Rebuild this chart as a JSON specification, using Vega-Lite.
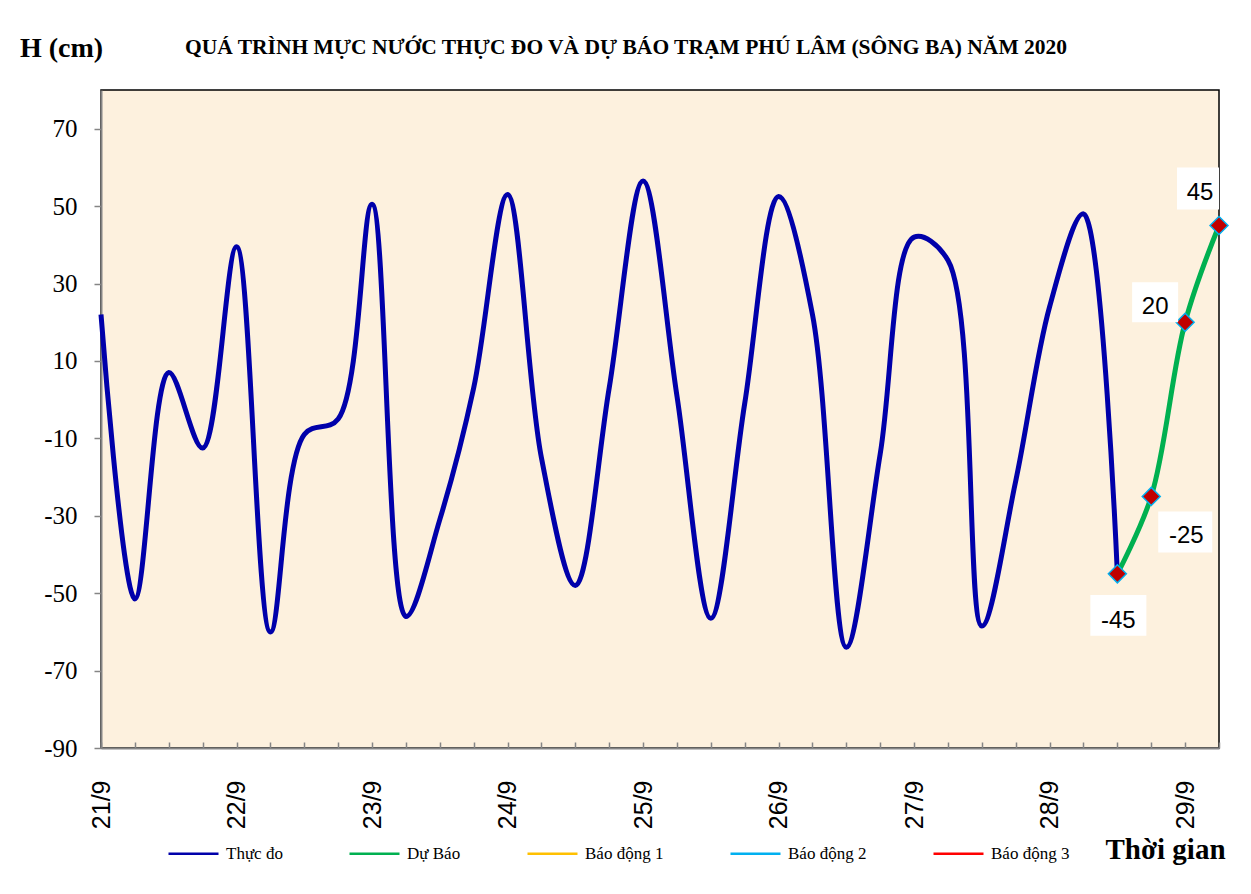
{
  "$schema": "https://vega.github.io/schema/vega-lite/v6.json",
  "width": 1118,
  "height": 658,
  "autosize": "none",
  "padding": {"left": 101, "top": 90, "right": 32, "bottom": 146},
  "background": "white",
  "title": {
    "text": "QUÁ TRÌNH MỰC NƯỚC THỰC ĐO VÀ DỰ BÁO TRẠM PHÚ LÂM (SÔNG BA) NĂM 2020",
    "font": "Liberation Serif",
    "fontSize": 21.5,
    "fontWeight": "bold",
    "color": "black",
    "anchor": "middle",
    "offset": -24,
    "dx": -34
  },
  "config": {
    "view": {"fill": "#FDF1DE", "stroke": "black", "strokeWidth": 1.5},
    "axis": {"zindex": 1, "grid": false, "domainColor": "#858585", "domainWidth": 2, "tickColor": "#858585", "tickWidth": 1.5, "labelColor": "black", "titleColor": "black"}
  },
  "data": {
    "values": [
      {"t": 0, "h": 22, "s": "Thực đo"},
      {"t": 6, "h": -51.5, "s": "Thực đo"},
      {"t": 12, "h": 7, "s": "Thực đo"},
      {"t": 18, "h": -12.5, "s": "Thực đo"},
      {"t": 24, "h": 39.5, "s": "Thực đo"},
      {"t": 30, "h": -60, "s": "Thực đo"},
      {"t": 36, "h": -9, "s": "Thực đo"},
      {"t": 42, "h": -5, "s": "Thực đo"},
      {"t": 48, "h": 50.5, "s": "Thực đo"},
      {"t": 54, "h": -56, "s": "Thực đo"},
      {"t": 60, "h": -31, "s": "Thực đo"},
      {"t": 66, "h": 3, "s": "Thực đo"},
      {"t": 72, "h": 53, "s": "Thực đo"},
      {"t": 78, "h": -15, "s": "Thực đo"},
      {"t": 84, "h": -48, "s": "Thực đo"},
      {"t": 90, "h": 3, "s": "Thực đo"},
      {"t": 96, "h": 56.5, "s": "Thực đo"},
      {"t": 102, "h": 1, "s": "Thực đo"},
      {"t": 108, "h": -56.5, "s": "Thực đo"},
      {"t": 114, "h": -1, "s": "Thực đo"},
      {"t": 120, "h": 52.5, "s": "Thực đo"},
      {"t": 126, "h": 22, "s": "Thực đo"},
      {"t": 132, "h": -64, "s": "Thực đo"},
      {"t": 138, "h": -14, "s": "Thực đo"},
      {"t": 144, "h": 42, "s": "Thực đo"},
      {"t": 150, "h": 36, "s": "Thực đo"},
      {"t": 156, "h": -58.5, "s": "Thực đo"},
      {"t": 162, "h": -21, "s": "Thực đo"},
      {"t": 168, "h": 24, "s": "Thực đo"},
      {"t": 174, "h": 48, "s": "Thực đo"},
      {"t": 180, "h": -45, "s": "Thực đo"},
      {"t": 180, "h": -45, "s": "Dự Báo"},
      {"t": 186, "h": -25, "s": "Dự Báo"},
      {"t": 192, "h": 20, "s": "Dự Báo"},
      {"t": 198, "h": 45, "s": "Dự Báo"}
    ]
  },
  "encoding": {
    "x": {
      "field": "t",
      "type": "quantitative",
      "scale": {"domain": [0, 198], "nice": false, "zero": false},
      "axis": {
        "values": [0, 6, 12, 18, 24, 30, 36, 42, 48, 54, 60, 66, 72, 78, 84, 90, 96, 102, 108, 114, 120, 126, 132, 138, 144, 150, 156, 162, 168, 174, 180, 186, 192, 198],
        "labelExpr": "datum.value % 24 == 0 ? (21 + datum.value / 24) + '/9' : ''",
        "labelAngle": -90,
        "labelAlign": "right",
        "labelBaseline": "middle",
        "labelFont": "Liberation Sans",
        "labelFontSize": 25,
        "labelFlush": false,
        "labelOverlap": false,
        "tickSize": -6,
        "labelPadding": 38,
        "title": "Thời gian",
        "titleFont": "Liberation Serif",
        "titleFontSize": 29,
        "titleFontWeight": "bold",
        "titleX": 1064,
        "titleY": 101,
        "titleAlign": "center",
        "titleBaseline": "middle"
      }
    },
    "y": {
      "field": "h",
      "type": "quantitative",
      "scale": {"domain": [-90, 80], "nice": false, "zero": false},
      "axis": {
        "values": [-90, -70, -50, -30, -10, 10, 30, 50, 70],
        "labelExpr": "'' + datum.value",
        "labelFont": "Liberation Serif",
        "labelFontSize": 25,
        "labelPadding": 17,
        "labelFlush": false,
        "labelOverlap": false,
        "tickSize": 7,
        "title": "H (cm)",
        "titleAngle": 0,
        "titleFont": "Liberation Serif",
        "titleFontSize": 28,
        "titleFontWeight": "bold",
        "titleX": -40,
        "titleY": -42,
        "titleAlign": "center",
        "titleBaseline": "middle"
      }
    }
  },
  "layer": [
    {
      "mark": {"type": "line", "strokeWidth": 5, "interpolate": "catmull-rom"},
      "encoding": {
        "color": {
          "field": "s",
          "type": "nominal",
          "scale": {
            "domain": ["Thực đo", "Dự Báo", "Báo động 1", "Báo động 2", "Báo động 3"],
            "range": ["#0000AA", "#00B050", "#FFC000", "#00B0F0", "#FF0000"]
          },
          "legend": {
            "orient": "none",
            "legendX": 66,
            "legendY": 737,
            "direction": "horizontal",
            "title": null,
            "padding": 0,
            "symbolType": "stroke",
            "symbolSize": 2500,
            "symbolStrokeWidth": 2.5,
            "labelFont": "Liberation Serif",
            "labelFontSize": 17,
            "labelColor": "black",
            "labelOffset": 6,
            "columnPadding": 61
          }
        }
      }
    },
    {
      "transform": [{"filter": "datum.s == 'Dự Báo'"}],
      "mark": {"type": "point", "shape": "diamond", "filled": true, "fill": "#C00000", "stroke": "#00B0F0", "strokeWidth": 1.5, "size": 324, "opacity": 1}
    },
    {
      "transform": [{"filter": "datum.s == 'Dự Báo' && datum.t == 198"}],
      "layer": [
        {"mark": {"type": "point", "shape": "M-1,-1H1V1H-1Z", "filled": true, "fill": "white", "opacity": 1, "strokeWidth": 0, "size": 1764, "xOffset": -21, "yOffset": -37}},
        {"mark": {"type": "text", "font": "Liberation Sans", "fontSize": 24, "color": "black", "baseline": "alphabetic", "dx": -19, "dy": -25.4}, "encoding": {"text": {"field": "h"}}}
      ]
    },
    {
      "transform": [{"filter": "datum.s == 'Dự Báo' && datum.t == 192"}],
      "layer": [
        {"mark": {"type": "point", "shape": "M-1,-0.87H1V0.87H-1Z", "filled": true, "fill": "white", "opacity": 1, "strokeWidth": 0, "size": 2116, "xOffset": -30, "yOffset": -20}},
        {"mark": {"type": "text", "font": "Liberation Sans", "fontSize": 24, "color": "black", "baseline": "alphabetic", "dx": -30, "dy": -8}, "encoding": {"text": {"field": "h"}}}
      ]
    },
    {
      "transform": [{"filter": "datum.s == 'Dự Báo' && datum.t == 186"}],
      "layer": [
        {"mark": {"type": "point", "shape": "M-1,-0.76H1V0.76H-1Z", "filled": true, "fill": "white", "opacity": 1, "strokeWidth": 0, "size": 2916, "xOffset": 34, "yOffset": 35.5}},
        {"mark": {"type": "text", "font": "Liberation Sans", "fontSize": 24, "color": "black", "baseline": "alphabetic", "dx": 35, "dy": 46.6}, "encoding": {"text": {"field": "h"}}}
      ]
    },
    {
      "transform": [{"filter": "datum.s == 'Dự Báo' && datum.t == 180"}],
      "layer": [
        {"mark": {"type": "point", "shape": "M-1,-0.73H1V0.73H-1Z", "filled": true, "fill": "white", "opacity": 1, "strokeWidth": 0, "size": 3136, "xOffset": 1, "yOffset": 41.5}},
        {"mark": {"type": "text", "font": "Liberation Sans", "fontSize": 24, "color": "black", "baseline": "alphabetic", "dx": 1, "dy": 54}, "encoding": {"text": {"field": "h"}}}
      ]
    }
  ]
}
